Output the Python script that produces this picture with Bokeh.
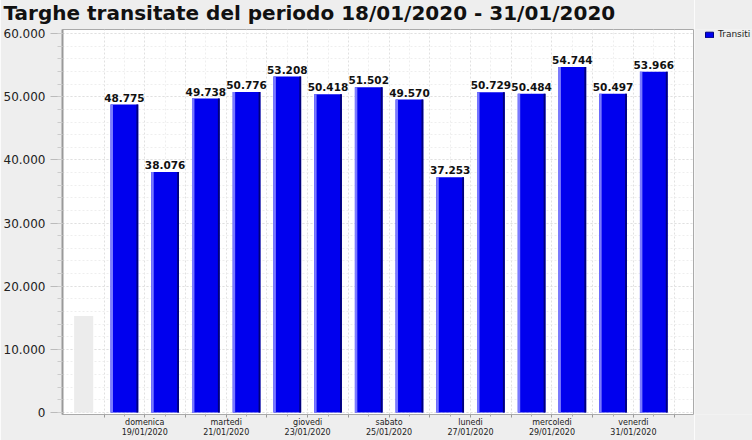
import pandas as pd
from bokeh.plotting import figure
from bokeh.layouts import row
from bokeh.models import (Range1d, FixedTicker, Legend, LegendItem, ColumnDataSource,
                          GlobalInlineStyleSheet)
from bokeh.transform import dodge
from bokeh.core.properties import value
from bokeh.embed import file_html
from bokeh.resources import INLINE

# ---------------- data ----------------
dates = ["18/01/2020", "19/01/2020", "20/01/2020", "21/01/2020", "22/01/2020",
         "23/01/2020", "24/01/2020", "25/01/2020", "26/01/2020", "27/01/2020",
         "28/01/2020", "29/01/2020", "30/01/2020", "31/01/2020"]
transiti = [48775, 38076, 49738, 50776, 53208, 50418, 51502,
            49570, 37253, 50729, 50484, 54744, 50497, 53966]

partial_dates = ["17/01/2020"]
partial_values = [15300]

tick_dates = ["19/01/2020", "21/01/2020", "23/01/2020", "25/01/2020",
              "27/01/2020", "29/01/2020", "31/01/2020"]
tick_days = ["domenica", "martedi", "giovedi", "sabato", "lunedi", "mercoledi", "venerdi"]

y_ticks = [0, 10000, 20000, 30000, 40000, 50000, 60000]
y_tick_labels = ["0", "10.000", "20.000", "30.000", "40.000", "50.000", "60.000"]

title_text = "Targhe transitate del periodo 18/01/2020 - 31/01/2020"
series_name = "Transiti"

BG = "#eeeeee"
BAR = "#0000ee"

# ---------------- helpers ----------------
start = pd.to_datetime(dates[0], dayfirst=True)


def day_index(d):
    return (pd.to_datetime(d, dayfirst=True) - start).days


src = ColumnDataSource(dict(
    x=[day_index(d) for d in dates],
    top=transiti,
    label=[f"{v:,}".replace(",", ".") for v in transiti],
))
ghost = ColumnDataSource(dict(
    x=[day_index(d) for d in partial_dates],
    top=partial_values,
))

FIG_H = 447

p = figure(width=694, height=FIG_H, output_backend="svg", toolbar_location=None,
           x_range=Range1d(-1.52, 14.0), y_range=Range1d(-320, 60670),
           title=title_text,
           min_border_left=61, min_border_right=0, min_border_top=20, min_border_bottom=20,
           background_fill_color="white", border_fill_color=BG,
           outline_line_color="#aaaaaa")

# title
p.title.align = "left"
p.title.offset = -59
p.title.standoff = 10
p.title.text_font = "DejaVu Sans"
p.title.text_font_style = "bold"
p.title.text_font_size = "20px"
p.title.text_color = "#111111"

# bars
p.vbar(x="x", top="top", bottom=0, width=0.47, source=ghost,
       fill_color="#ececec", line_color=None)
main = p.vbar(x="x", top="top", bottom=0, width=0.68, source=src,
              fill_color=BAR, line_color=None)
p.vbar(x=dodge("x", -0.31, range=p.x_range), top="top", bottom=0, width=0.06,
       source=src, fill_color="#7a7aff", line_color=None)
p.vbar(x=dodge("x", 0.318, range=p.x_range), top="top", bottom=0, width=0.045,
       source=src, fill_color="#00007a", line_color=None)

# value labels
p.text(x="x", y="top", text="label", source=src, text_align="center",
       text_baseline="alphabetic", y_offset=-7,
       text_font=value("DejaVu Sans"), text_font_style="bold",
       text_font_size=value("10.5px"), text_color="#111111")

# x axis
n_days = len(dates)
major_x = [i - 0.5 for i in range(n_days + 1)]
minor_x = [i for i in range(n_days)]
overrides = {t: "" for t in major_x}
for d, name in zip(tick_dates, tick_days):
    overrides[day_index(d) - 0.5] = f"{name}\n{d}"
xa = p.xaxis[0]
xa.ticker = FixedTicker(ticks=major_x, minor_ticks=minor_x)
xa.major_label_overrides = overrides
xa.axis_line_color = None
xa.major_tick_line_color = "#999999"
xa.minor_tick_line_color = "#aaaaaa"
xa.major_tick_out = 3
xa.major_tick_in = 0
xa.minor_tick_out = 2
xa.minor_tick_in = 0
xa.major_label_standoff = 0
xa.major_label_text_font = "DejaVu Sans"
xa.major_label_text_font_size = "8px"
xa.major_label_text_color = "#222222"

# y axis
ya = p.yaxis[0]
ya.ticker = FixedTicker(ticks=y_ticks, minor_ticks=list(range(0, 60001, 2000)))
ya.major_label_overrides = {t: l for t, l in zip(y_ticks, y_tick_labels)}
ya.axis_line_color = "#999999"
ya.axis_line_width = 2
ya.major_tick_line_color = "#bbbbbb"
ya.minor_tick_line_color = "#cccccc"
ya.major_tick_out = 12
ya.major_tick_in = 0
ya.minor_tick_out = 5
ya.minor_tick_in = 0
ya.major_label_standoff = 5
ya.major_label_text_font = "DejaVu Sans"
ya.major_label_text_font_size = "12px"
ya.major_label_text_color = "#222222"

# grids
for g in (p.xgrid[0], p.ygrid[0]):
    g.grid_line_color = "#e0e0e0"
    g.grid_line_dash = "2 2"
    g.minor_grid_line_color = "#eeeeee"
    g.minor_grid_line_dash = "2 2"

# legend strip to the right of the chart (swatch renderer sits outside its visible range)
pl = figure(width=58, height=FIG_H, output_backend="svg", toolbar_location=None,
            x_range=Range1d(0, 1), y_range=Range1d(0, 1),
            x_axis_location=None, y_axis_location=None,
            min_border=0, background_fill_color=BG, border_fill_color=BG,
            outline_line_color=None)
pl.grid.visible = False
swatch = pl.vbar(x="x", top="top", bottom=0, width=0.5,
                 source=ColumnDataSource(dict(x=[5.0], top=[0.5])),
                 fill_color=BAR, line_color="#00007a")
legend = Legend(items=[LegendItem(label=series_name, renderers=[swatch])],
                location=(10, 374), padding=0, margin=0, spacing=0,
                border_line_color=None, background_fill_alpha=0,
                glyph_width=10, glyph_height=7, label_height=12,
                label_standoff=4, label_text_font="DejaVu Sans",
                label_text_font_size="9px", label_text_color="#222222")
pl.add_layout(legend, "center")

layout = row(p, pl, spacing=0,
             styles={"margin-top": "-7px"},
             stylesheets=[GlobalInlineStyleSheet(css="html, body { overflow: hidden; }")])

open("out.html", "w").write(file_html(layout, INLINE))
